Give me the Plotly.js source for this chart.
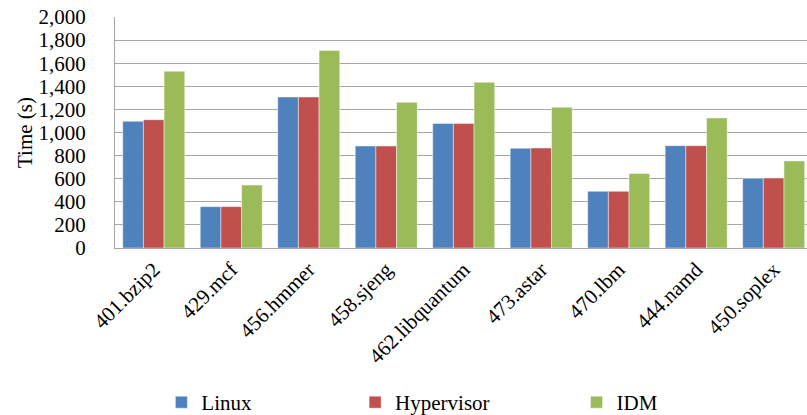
<!DOCTYPE html>
<html>
<head>
<meta charset="utf-8">
<script src="https://cdn.plot.ly/plotly-3.0.1.min.js"></script>
<style>
  html, body { margin: 0; padding: 0; background: #fff; }
  #chart { width: 807px; height: 415px; }
</style>
</head>
<body>
<div id="chart"></div>
<script>
// SPEC CPU2006 benchmark run times
const benchmarks = ['401.bzip2', '429.mcf', '456.hmmer', '458.sjeng', '462.libquantum',
                    '473.astar', '470.lbm', '444.namd', '450.soplex'];
const linuxTimes      = [1097, 358, 1307, 883, 1079, 863, 491, 886, 603];
const hypervisorTimes = [1111, 358, 1307, 883, 1079, 866, 491, 886, 606];
const idmTimes        = [1530, 545, 1711, 1261, 1434, 1218, 644, 1126, 753];
const yTickValues = [0, 200, 400, 600, 800, 1000, 1200, 1400, 1600, 1800, 2000];
const yTickLabels = ['0', '200', '400', '600', '800', '1,000', '1,200', '1,400', '1,600', '1,800', '2,000'];

function series(name, values, color, legendId) {
  return {
    type: 'bar',
    name: name,
    x: benchmarks,
    y: values,
    legend: legendId,
    marker: { color: color, line: { color: 'rgba(255,255,255,0.45)', width: 1 } },
    hoverinfo: 'x+y+name'
  };
}

// one legend per series so each entry sits at its own spot along the bottom
function legendAt(x) {
  return {
    x: x, xanchor: 'left',
    yref: 'container', y: 0.03, yanchor: 'middle',
    orientation: 'h', bgcolor: 'rgba(0,0,0,0)'
  };
}

const data = [
  series('Linux', linuxTimes, '#4F81BD', 'legend'),
  series('Hypervisor', hypervisorTimes, '#C0504D', 'legend2'),
  series('IDM', idmTimes, '#9BBB59', 'legend3')
];

const layout = {
  width: 807,
  height: 415,
  margin: { l: 115, r: 0, t: 17, b: 167 },
  paper_bgcolor: '#fff',
  plot_bgcolor: '#fff',
  barmode: 'group',
  bargap: 0.2,
  bargroupgap: 0,
  font: { family: 'Liberation Serif', size: 21, color: '#000' },
  xaxis: {
    type: 'category',
    range: [-0.5, 8.43],
    tickangle: -45,
    showline: true,
    linecolor: '#a6a6a6',
    linewidth: 1,
    ticks: '',
    showgrid: false,
    fixedrange: true
  },
  yaxis: {
    range: [0, 2000],
    tickvals: yTickValues,
    ticktext: yTickLabels,
    showline: true,
    linecolor: '#a6a6a6',
    linewidth: 1,
    ticks: '',
    ticklabelstandoff: 24,
    gridcolor: '#a6a6a6',
    gridwidth: 1,
    zeroline: false,
    title: { text: 'Time (s)', font: { size: 21 } },
    fixedrange: true
  },
  showlegend: true,
  legend: legendAt(0.067),
  legend2: legendAt(0.347),
  legend3: legendAt(0.667)
};

Plotly.newPlot('chart', data, layout, { displayModeBar: false, staticPlot: true });
</script>
</body>
</html>
